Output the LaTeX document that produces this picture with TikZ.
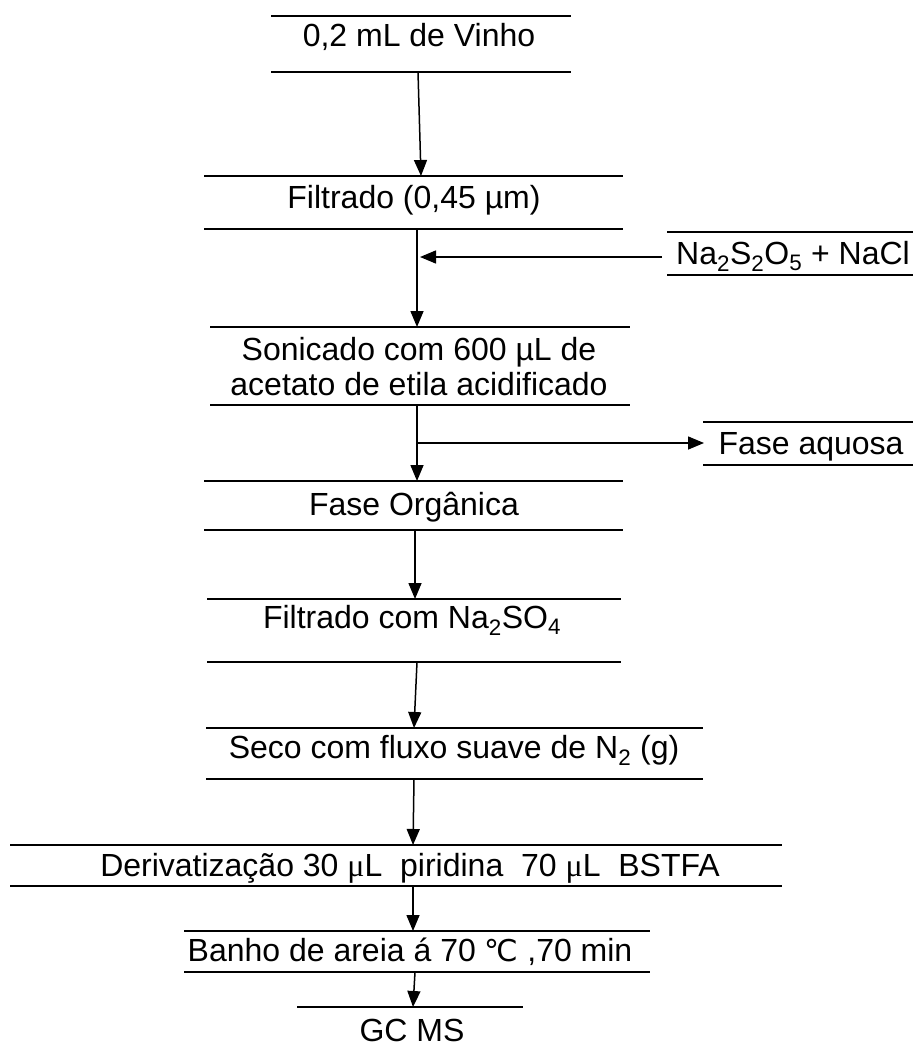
\documentclass[tikz,border=0pt]{standalone}
\usepackage{fontspec}
\setmainfont{Liberation Sans}
\newfontfamily\greekserif{Liberation Serif}
\newfontfamily\dejavu{DejaVu Sans}
\usetikzlibrary{arrows.meta}
\begin{document}
\begin{tikzpicture}[x=1pt,y=-1pt,
  rule/.style={line width=2.4pt},
  flow/.style={line width=1.5pt,-{Triangle[length=16pt,width=13pt]}},
  lbl/.style={anchor=base,inner sep=0pt,font=\fontsize{32}{36}\selectfont}]
\useasboundingbox (0,0) rectangle (913,1046);

% box 1
\draw[rule] (271,16) -- (571,16);
\draw[rule] (271,72) -- (571,72);
\node[lbl] (t1) at (419,47) {0,2 mL de Vinho};
% box 2
\draw[rule] (204,176) -- (623,176);
\draw[rule] (204,229) -- (623,229);
\node[lbl] (t2) at (414,208) {Filtrado (0,45 µm)};
% reagent box
\draw[rule] (667,232) -- (913,232);
\draw[rule] (667,275) -- (913,275);
\node[lbl] (na) at (793,264) {Na\textsubscript{2}S\textsubscript{2}O\textsubscript{5} + NaCl};
% box 3
\draw[rule] (210,327) -- (630,327);
\draw[rule] (210,405) -- (630,405);
\node[lbl] (t3a) at (419,360) {Sonicado com 600 µL de};
\node[lbl] (t3b) at (419,395) {acetato de etila acidificado};
% aqueous phase box
\draw[rule] (703,422) -- (913,422);
\draw[rule] (703,465) -- (913,465);
\node[lbl] (fa) at (811,454) {Fase aquosa};
% box 4
\draw[rule] (204,481) -- (623,481);
\draw[rule] (204,530) -- (623,530);
\node[lbl] (t4) at (414,515) {Fase Orgânica};
% box 5
\draw[rule] (207,599) -- (621,599);
\draw[rule] (207,662) -- (621,662);
\node[lbl] (t5) at (412,628) {Filtrado com Na\textsubscript{2}SO\textsubscript{4}};
% box 6
\draw[rule] (206,728) -- (703,728);
\draw[rule] (206,779) -- (703,779);
\node[lbl] (t6) at (454,758) {Seco com fluxo suave de N\textsubscript{2} (g)};
% box 7
\draw[rule] (10,845) -- (782,845);
\draw[rule] (10,886) -- (782,886);
\node[lbl] (t7) at (410,876) {Derivatização 30 {\greekserif μ}L\ \ piridina\ \ 70 {\greekserif μ}L\ \ BSTFA};
% box 8
\draw[rule] (184,931) -- (650,931);
\draw[rule] (184,972) -- (650,972);
\node[lbl] (t8) at (410,961) {Banho de areia á 70 {\dejavu\fontsize{30}{34}\selectfont ℃} ,70 min};
% box 9
\draw[rule] (297,1007) -- (523,1007);
\node[lbl] (t9) at (412,1041) {GC MS};

% connector end points
\coordinate (s1) at (418,72);   \coordinate (e1) at (421,176);
\coordinate (s2) at (417,229);  \coordinate (e2) at (417,327);
\coordinate (s3) at (662,257);  \coordinate (e3) at (420,257);
\coordinate (s4) at (417,405);  \coordinate (e4) at (417,481);
\coordinate (s5) at (418,443);  \coordinate (e5) at (704,443);
\coordinate (s6) at (415,530);  \coordinate (e6) at (415,599);
\coordinate (s7) at (417,662);  \coordinate (e7) at (414,728);
\coordinate (s8) at (414,779);  \coordinate (e8) at (413,845);
\coordinate (s9) at (413,886);  \coordinate (e9) at (413,931);
\coordinate (s10) at (415,972); \coordinate (e10) at (413,1007);

\draw[flow] (s1) -- (e1);
\draw[flow] (s2) -- (e2);
\draw[flow] (s3) -- (e3);
\draw[flow] (s4) -- (e4);
\draw[flow] (s5) -- (e5);
\draw[flow] (s6) -- (e6);
\draw[flow] (s7) -- (e7);
\draw[flow] (s8) -- (e8);
\draw[flow] (s9) -- (e9);
\draw[flow] (s10) -- (e10);
\end{tikzpicture}
\end{document}
